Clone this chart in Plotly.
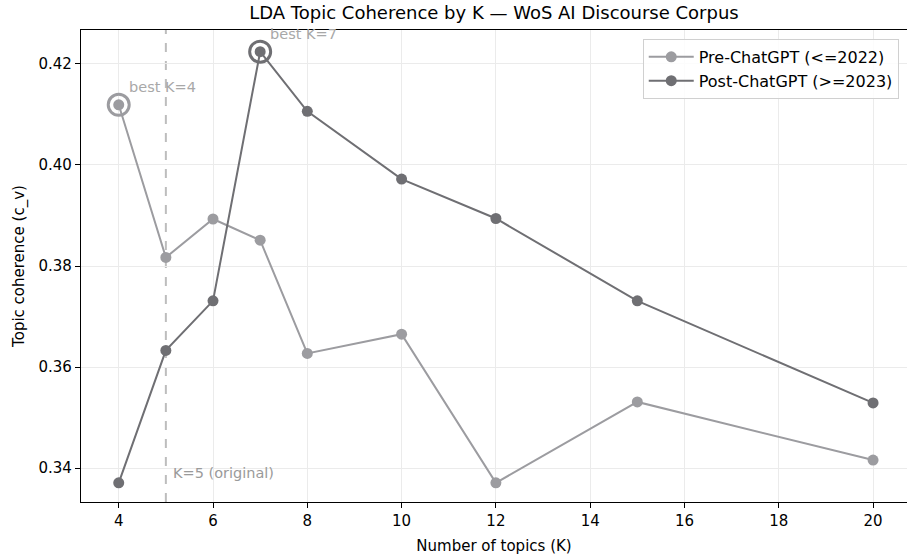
import plotly.graph_objects as go

K = [4, 5, 6, 7, 8, 10, 12, 15, 20]
pre_chatgpt = [0.4119, 0.3817, 0.3893, 0.3851, 0.3627, 0.3665, 0.3371, 0.3531, 0.3416]
post_chatgpt = [0.3371, 0.3633, 0.3731, 0.4224, 0.4106, 0.3972, 0.3894, 0.3731, 0.3529]
x_ticks = [4, 6, 8, 10, 12, 14, 16, 18, 20]
y_ticks = [0.34, 0.36, 0.38, 0.40, 0.42]
series_names = ["Pre-ChatGPT (<=2022)", "Post-ChatGPT (>=2023)"]
original_k = 5

PRE_C = "#9c9ca0"
POST_C = "#6f6f73"
FONT = "DejaVu Sans"

fig = go.Figure()

for name, vals, col in [(series_names[0], pre_chatgpt, PRE_C), (series_names[1], post_chatgpt, POST_C)]:
    fig.add_trace(go.Scatter(
        x=K, y=vals, mode="lines+markers", name=name,
        line=dict(color=col, width=2),
        marker=dict(color=col, size=11),
    ))

# best-K rings
for vals, col in [(pre_chatgpt, PRE_C), (post_chatgpt, POST_C)]:
    i = max(range(len(vals)), key=lambda j: vals[j])
    fig.add_trace(go.Scatter(
        x=[K[i]], y=[vals[i]], mode="markers", showlegend=False,
        marker=dict(symbol="circle-open", size=21, color=col, line=dict(width=3, color=col)),
        hoverinfo="skip",
    ))
    fig.add_annotation(x=K[i], y=vals[i], xref="x", yref="y", text=f"best K={K[i]}",
                       showarrow=False, xanchor="left", yanchor="middle",
                       xshift=8, yshift=18,
                       font=dict(family=FONT, size=14.5, color="#a8a8a8"))

fig.add_vline(x=original_k, line=dict(color="#bdbdbd", width=2, dash="dash"), layer="below")
fig.add_annotation(x=original_k, y=0.3371, xref="x", yref="y", text=f"K={original_k} (original)",
                   showarrow=False, xanchor="left", yanchor="middle", xshift=5, yshift=10,
                   font=dict(family=FONT, size=14.5, color="#9a9a9a"))

fig.update_layout(
    width=907, height=558,
    margin=dict(l=81, r=0, t=30, b=56),
    paper_bgcolor="white", plot_bgcolor="white",
    font=dict(family=FONT, size=15, color="black"),
    title=dict(text="LDA Topic Coherence by K — WoS AI Discourse Corpus",
               x=(81 + 907) / 2 / 907, xanchor="center", y=1 - 13 / 558, yanchor="middle",
               font=dict(family=FONT, size=18, color="black")),
    legend=dict(x=0.99, y=0.981, xanchor="right", yanchor="top",
                bgcolor="rgba(255,255,255,0.85)", bordercolor="#d0d0d0", borderwidth=1,
                font=dict(family=FONT, size=16, color="black"), itemwidth=45),
    showlegend=True,
)

fig.update_xaxes(
    range=[3.2, 20.72], tickvals=x_ticks, ticktext=[str(v) for v in x_ticks],
    showgrid=True, gridcolor="#ebebeb", gridwidth=1,
    showline=True, linecolor="black", linewidth=1.3, mirror=True,
    ticks="outside", ticklen=5, tickcolor="black", zeroline=False,
    title=dict(text="Number of topics (K)", font=dict(family=FONT, size=15), standoff=11),
)
fig.update_yaxes(
    range=[0.3333, 0.4267], tickvals=y_ticks, ticktext=[f"{v:.2f}" for v in y_ticks],
    showgrid=True, gridcolor="#ebebeb", gridwidth=1,
    showline=True, linecolor="black", linewidth=1.3,
    ticks="outside", ticklen=5, tickcolor="black", zeroline=False,
    title=dict(text="Topic coherence (c_v)", font=dict(family=FONT, size=15), standoff=10),
)

fig.write_html("out.html")
